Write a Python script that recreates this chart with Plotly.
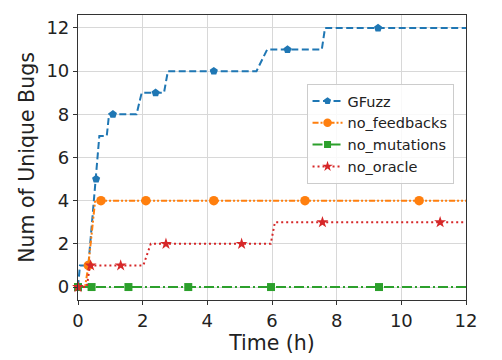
import plotly.graph_objects as go

# ---- data ----
series_names = ["GFuzz", "no_feedbacks", "no_mutations", "no_oracle"]

gfuzz_t = [0, 0.06, 0.32, 0.56, 0.66, 0.89, 0.96, 1.81, 1.97, 2.66, 2.78, 5.52, 5.85, 7.54, 7.64, 12]
gfuzz_v = [0, 1, 1, 5, 7, 7, 8, 8, 9, 9, 10, 10, 11, 11, 12, 12]
gfuzz_mt = [0, 0.56, 1.08, 2.4, 4.2, 6.48, 9.28]
gfuzz_mv = [0, 5, 8, 9, 10, 11, 12]

nofb_t = [0, 0.22, 0.32, 0.53, 12]
nofb_v = [0, 0, 1, 4, 4]
nofb_mt = [0.32, 0.71, 2.1, 4.2, 7.02, 10.55]
nofb_mv = [1, 4, 4, 4, 4, 4]

nomut_t = [0, 12]
nomut_v = [0, 0]
nomut_mt = [0, 0.42, 1.56, 3.41, 5.97, 9.31]
nomut_mv = [0, 0, 0, 0, 0, 0]

noor_t = [0, 0.27, 0.37, 2.02, 2.25, 5.96, 6.09, 12]
noor_v = [0, 0, 1, 1, 2, 2, 3, 3]
noor_mt = [0, 0.39, 1.32, 2.72, 5.06, 7.56, 11.2]
noor_mv = [0, 1, 1, 2, 2, 3, 3]

x_ticks = [0, 2, 4, 6, 8, 10, 12]
y_ticks = [0, 2, 4, 6, 8, 10, 12]

# ---- styles ----
colors = ["#1f77b4", "#ff7f0e", "#2ca02c", "#d62728"]
dashes = ["7px,3.5px", "6px,2px,2px,2px,2px,2px", "10px,3px,2px,3px", "2px,3px"]
symbols = ["pentagon", "circle", "square", "star"]
msizes = [8.5, 9.5, 8, 9]

lines = [(gfuzz_t, gfuzz_v), (nofb_t, nofb_v), (nomut_t, nomut_v), (noor_t, noor_v)]
marks = [(gfuzz_mt, gfuzz_mv), (nofb_mt, nofb_mv), (nomut_mt, nomut_mv), (noor_mt, noor_mv)]

fig = go.Figure()
for i, name in enumerate(series_names):
    lt, lv = lines[i]
    mt, mv = marks[i]
    fig.add_trace(go.Scatter(x=lt, y=lv, mode="lines", showlegend=False,
                             line=dict(color=colors[i], width=2, dash=dashes[i]),
                             hoverinfo="skip", cliponaxis=False))
    fig.add_trace(go.Scatter(x=mt, y=mv, mode="markers", showlegend=False,
                             marker=dict(color=colors[i], symbol=symbols[i], size=msizes[i]),
                             cliponaxis=False))
    # legend entry
    fig.add_trace(go.Scatter(x=[None], y=[None], mode="lines+markers", name=name,
                             line=dict(color=colors[i], width=2, dash=dashes[i]),
                             marker=dict(color=colors[i], symbol=symbols[i], size=msizes[i] - 1)))

axis_common = dict(
    showline=True, linecolor="#333333", linewidth=1.2, mirror=True,
    ticks="outside", ticklen=4, tickwidth=1, tickcolor="#333333",
    showgrid=True, gridcolor="#d8d8d8", gridwidth=1, zeroline=False,
    tickfont=dict(family="DejaVu Sans", size=18, color="#222222"),
)

fig.update_layout(
    width=502, height=360,
    margin=dict(l=78, r=36, t=15, b=58),
    paper_bgcolor="white", plot_bgcolor="white",
    font=dict(family="DejaVu Sans", color="#222222"),
    xaxis=dict(range=[0, 12], tickvals=x_ticks,
               title=dict(text="Time (h)", font=dict(size=20.5), standoff=3),
               **axis_common),
    yaxis=dict(range=[-0.6, 12.6], tickvals=y_ticks,
               title=dict(text="Num of Unique Bugs", font=dict(size=20.5), standoff=6),
               **axis_common),
    legend=dict(x=0.589, y=0.758, xanchor="left", yanchor="top",
                bgcolor="rgba(255,255,255,0.85)", bordercolor="#cccccc", borderwidth=1,
                font=dict(family="DejaVu Sans", size=14.5, color="#222222"),
                tracegroupgap=0, itemwidth=30),
)

fig.write_html("out.html", config={"displayModeBar": False},
               post_script="document.body.style.margin='0';")
